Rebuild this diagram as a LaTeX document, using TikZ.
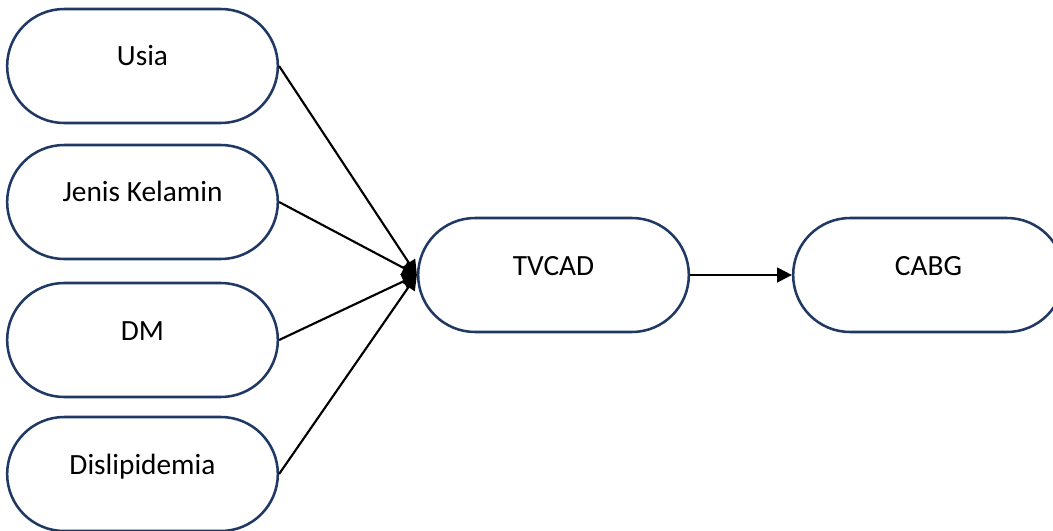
\documentclass[tikz,border=0pt]{standalone}
\usepackage{fontspec}
\setmainfont{Carlito}
\usetikzlibrary{shapes.misc,arrows.meta}
\definecolor{boxnavy}{HTML}{1F3864}
\begin{document}
\begin{tikzpicture}[x=0.75pt,y=-0.75pt,
  pill/.style={rounded rectangle, draw=boxnavy, line width=1.9pt, fill=white,
    minimum width=203pt, minimum height=85.5pt, inner sep=0pt,
    font=\fontsize{22}{26}\selectfont, text height=1.2em, text depth=1.2em},
  link/.style={line width=1.6pt, black, -{Triangle[length=11pt,width=11pt]}}]
  \useasboundingbox (0,0) rectangle (1053,531);
  % factor boxes on the left
  \node[pill] (usia)  at (142.5,66)  {Usia};
  \node[pill] (jenis) at (142.5,202) {Jenis Kelamin};
  \node[pill] (dm)    at (142.5,340) {DM};
  \node[pill] (dis)   at (142.5,474) {Dislipidemia};
  % outcome chain
  \node[pill] (tvcad) at (553.5,275) {TVCAD};
  \node[pill] (cabg)  at (928.5,275) {CABG};
  % connectors
  \draw[link] (usia.east)  -- (tvcad.west);
  \draw[link] (jenis.east) -- (tvcad.west);
  \draw[link] (dm.east)    -- (tvcad.west);
  \draw[link] (dis.east)   -- (tvcad.west);
  \draw[link] (tvcad.east) -- (cabg.west);
\end{tikzpicture}
\end{document}
